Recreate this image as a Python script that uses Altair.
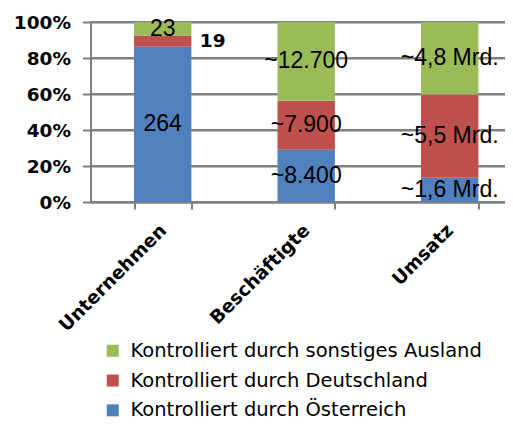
import altair as alt
import pandas as pd

categories = ["Unternehmen", "Beschäftigte", "Umsatz"]
groups = [
    "Kontrolliert durch Österreich",
    "Kontrolliert durch Deutschland",
    "Kontrolliert durch sonstiges Ausland",
]
oesterreich = [264, 8400, 1.6]
deutschland = [19, 7900, 5.5]
sonstiges = [23, 12700, 4.8]
labels_oe = ["264", "~8.400", "~1,6 Mrd."]
labels_de = ["19", "~7.900", "~5,5 Mrd."]
labels_so = ["23", "~12.700", "~4,8 Mrd."]
colors = ["#9BBB59", "#C0504D", "#4F81BD"]
y_ticks = [0, 0.2, 0.4, 0.6, 0.8, 1.0]

rows = []
for i, c in enumerate(categories):
    for k, (g, vals, labs) in enumerate(
        zip(groups, [oesterreich, deutschland, sonstiges], [labels_oe, labels_de, labels_so])
    ):
        rows.append({"cat": c, "group": g, "order": k, "value": vals[i], "label": labs[i],
                     "outside": (i == 0 and k == 1)})
df = pd.DataFrame(rows)
grid_df = pd.DataFrame({"t": y_ticks})

GRAY = "#808080"
PLOT_W = 414.5

base = alt.Chart(df).transform_stack(
    stack="value", groupby=["cat"], as_=["v0", "v1"], offset="normalize",
    sort=[alt.SortField("order", order="ascending")],
).transform_calculate(mid="(datum.v0 + datum.v1) / 2")

x_scale = alt.Scale(paddingInner=0.6, paddingOuter=0.2443, align=0.6205, round=False)
y_scale = alt.Scale(domain=[0, 1], nice=False, zero=True)
color_scale = alt.Scale(domain=[groups[2], groups[1], groups[0]], range=colors)

x_axis = alt.Axis(
    title=None, labelAngle=-45, labelAlign="right", labelBaseline="middle",
    tickBand="extent", labelPadding=18, grid=False,
)
y_axis = alt.Axis(
    title=None, format="%", values=y_ticks, grid=True, gridColor=GRAY,
    gridWidth=2, gridOpacity=1, labelOverlap=False, labelFlush=False, tickCount=6,
)

x_enc = alt.X("cat:N", sort=categories, scale=x_scale, axis=x_axis)

legend = alt.Legend(
    title=None, orient="none", legendX=12.5, legendY=319,
    direction="vertical", symbolType="square", symbolSize=144,
    labelFont="DejaVu Sans", labelFontSize=19.5, labelColor="black",
    labelOffset=8, rowPadding=8.8, padding=0, labelLimit=0,
    symbolStrokeWidth=0,
)

grid = alt.Chart(grid_df).mark_tick(
    orient="horizontal", size=PLOT_W, thickness=2, color=GRAY, opacity=1
).encode(
    x=alt.value(PLOT_W / 2),
    y=alt.Y("t:Q", scale=y_scale, axis=y_axis),
)

bars = base.mark_bar().encode(
    x=x_enc,
    y=alt.Y("v0:Q", scale=y_scale, axis=y_axis),
    y2="v1:Q",
    color=alt.Color("group:N", scale=color_scale, legend=legend),
)

inside = base.transform_filter("!datum.outside").mark_text(
    font="Liberation Sans", fontSize=23, color="black", baseline="middle"
).encode(x=x_enc, y=alt.Y("mid:Q", scale=y_scale, axis=y_axis), text="label:N")

outside = base.transform_filter("datum.outside").mark_text(
    font="DejaVu Sans", fontWeight="bold", fontSize=18.5, color="black",
    baseline="middle", dx=50
).encode(x=x_enc, y=alt.Y("mid:Q", scale=y_scale, axis=y_axis), text="label:N")

chart = alt.layer(grid, bars, inside, outside).properties(
    width=PLOT_W, height=180,
    autosize=alt.AutoSizeParams(type="none"),
    padding={"left": 82.5, "top": 14, "right": 0, "bottom": 217},
).configure_view(stroke=None).configure_axis(
    labelFont="DejaVu Sans", labelFontWeight="bold", labelFontSize=18.5,
    labelColor="black", tickColor=GRAY, tickWidth=2, domainColor=GRAY,
    domainWidth=2,
).configure_axisY(
    tickSize=8, labelPadding=12, labelOverlap=False,
).configure_axisX(tickSize=7)

chart.save("out.html", embed_options={"renderer": "svg", "actions": False})
